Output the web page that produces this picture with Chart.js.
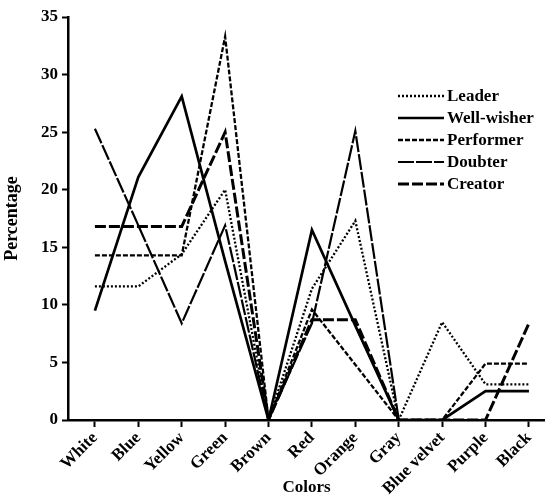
<!DOCTYPE html>
<html>
<head>
<meta charset="utf-8">
<script src="https://cdn.jsdelivr.net/npm/chart.js@4/dist/chart.umd.min.js"></script>
<style>
  html, body { margin: 0; padding: 0; background: #fff; }
  #wrap { width: 545px; height: 500px; }
</style>
</head>
<body>
<div id="wrap"><canvas id="colorChart" width="545" height="500"></canvas></div>
<script>
// colour preference by personality type, percent of each group
const categories = ['White', 'Blue', 'Yellow', 'Green', 'Brown', 'Red', 'Orange', 'Gray', 'Blue velvet', 'Purple', 'Black'];
const yTicks = [0, 5, 10, 15, 20, 25, 30, 35];

const leader     = [11.6, 11.6, 14.4, 20.0, 0, 11.4, 17.3, 0, 8.5, 3.1, 3.1];
const wellWisher = [9.5, 21.1, 28.1, 13.8, 0, 16.5, 8.2, 0, 0, 2.5, 2.5];
const performer  = [14.3, 14.3, 14.3, 33.3, 0, 9.6, 4.8, 0, 0, 4.9, 4.9];
const doubter    = [25.3, 16.9, 8.4, 16.9, 0, 8.4, 25.1, 0, 0, 0, 0];
const creator    = [16.8, 16.8, 16.8, 25.0, 0, 8.7, 8.7, 0, 0, 0, 8.4];

const FONT = '"Liberation Serif", "Times New Roman", serif';

// x uses a linear scale so the first category sits a bit off the y axis
const toPoints = arr => arr.map((v, i) => ({ x: i, y: v }));

function series(label, values, dash, width) {
  return {
    label, data: toPoints(values),
    borderColor: '#000', backgroundColor: '#000',
    borderWidth: width, borderDash: dash,
    pointRadius: 0, tension: 0, fill: false
  };
}

const datasets = [
  series('Leader', leader, [2, 2], 2.3),
  series('Well-wisher', wellWisher, [], 2.7),
  series('Performer', performer, [5, 2], 2.3),
  series('Doubter', doubter, [16, 2], 2.2),
  series('Creator', creator, [11, 3], 3),
];

// legend drawn inside the plot, top right, with a short line sample per series
const insideLegend = {
  id: 'insideLegend',
  afterDraw(chart) {
    const c = chart.ctx;
    const x0 = 398, x1 = 444, y0 = 96, step = 22;
    c.save();
    c.font = 'bold 17px ' + FONT;
    c.textBaseline = 'middle';
    c.fillStyle = '#000';
    chart.data.datasets.forEach((ds, i) => {
      const y = y0 + i * step;
      c.beginPath();
      c.setLineDash(ds.borderDash);
      c.lineWidth = ds.borderWidth;
      c.strokeStyle = ds.borderColor;
      c.moveTo(x0, y); c.lineTo(x1, y);
      c.stroke();
      c.setLineDash([]);
      c.fillText(ds.label, x1 + 3, y + 1);
    });
    c.restore();
  }
};

new Chart(document.getElementById('colorChart').getContext('2d'), {
  type: 'line',
  data: { datasets },
  plugins: [insideLegend],
  options: {
    responsive: false,
    animation: false,
    layout: { padding: { top: 17, right: 0, bottom: 0, left: 0 } },
    plugins: { legend: { display: false }, tooltip: { enabled: false } },
    scales: {
      x: {
        type: 'linear',
        min: -0.62, max: 10.37,
        afterBuildTicks: s => { s.ticks = categories.map((_, i) => ({ value: i })); },
        afterFit: s => { s.height = 80; },
        ticks: {
          callback: v => categories[v],
          maxRotation: 45, minRotation: 45,
          autoSkip: false,
          padding: 1,
          color: '#000',
          font: { family: FONT, size: 17, weight: 'bold' }
        },
        grid: { drawOnChartArea: false, drawTicks: true, tickLength: 7, tickWidth: 2, tickColor: '#000' },
        border: { display: true, color: '#000', width: 2.5 },
        title: { display: true, text: 'Colors', color: '#000', padding: { top: 0, bottom: 2 }, font: { family: FONT, size: 17, weight: 'bold' } }
      },
      y: {
        min: 0, max: 35,
        afterBuildTicks: s => { s.ticks = yTicks.map(v => ({ value: v })); },
        afterFit: s => { s.width = 68; },
        ticks: {
          padding: 4,
          color: '#000',
          font: { family: FONT, size: 17, weight: 'bold' }
        },
        grid: { drawOnChartArea: false, drawTicks: true, tickLength: 6, tickWidth: 2, tickColor: '#000' },
        border: { display: true, color: '#000', width: 2.5 },
        title: { display: true, text: 'Percentage', color: '#000', padding: { top: 2, bottom: 0 }, font: { family: FONT, size: 18, weight: 'bold' } }
      }
    }
  }
});
</script>
</body>
</html>
